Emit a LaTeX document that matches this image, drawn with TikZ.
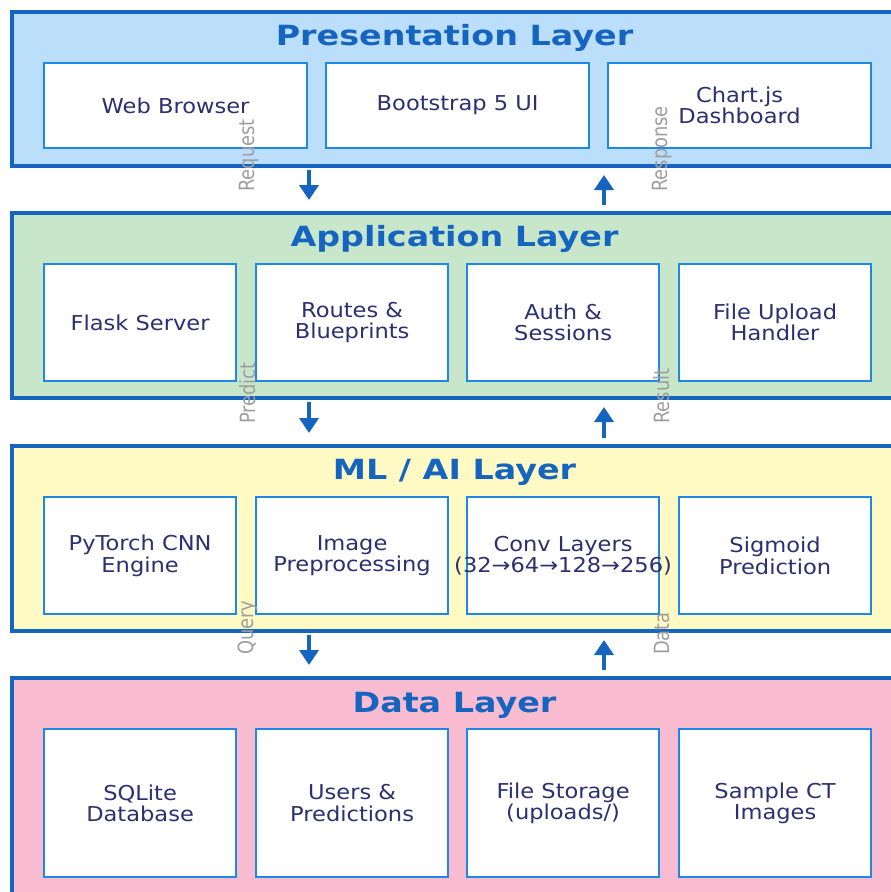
\documentclass[tikz,border=0pt]{standalone}
\usepackage{fontspec}
\setmainfont{DejaVu Sans}[FakeStretch=1.1]
\newfontfamily\titlefont{DejaVu Sans}[FakeStretch=1.2]
\newfontfamily\flowfont{DejaVu Sans}[FakeStretch=0.85]
\usetikzlibrary{arrows.meta}

\definecolor{presfill}{HTML}{BBDEFB}
\definecolor{appfill}{HTML}{C8E6C9}
\definecolor{mlfill}{HTML}{FFF9C4}
\definecolor{datafill}{HTML}{F8BBD0}
\definecolor{edgeblue}{HTML}{1565C0}
\definecolor{boxblue}{HTML}{1E88E5}
\definecolor{boxtext}{HTML}{2C2F70}
\definecolor{lblgray}{HTML}{9E9E9E}

\begin{document}
\begin{tikzpicture}[x=1pt, y=-1pt,
    layer/.style={draw=edgeblue, line width=4pt, outer sep=0pt, anchor=north west, minimum width=885pt},
    comp/.style={draw=boxblue, line width=2.2pt, fill=white, anchor=north west, align=center,
        inner sep=0pt, text=boxtext, font=\fontsize{20.5}{21.5}\selectfont},
    title/.style={anchor=base, text=edgeblue, font=\titlefont\bfseries\fontsize{27.8}{30}\selectfont},
    flow/.style={draw=edgeblue, line width=4.5pt, -{Triangle[length=15pt, width=19pt]}},
    lbl/.style={rotate=90, anchor=west, inner sep=0pt, text=lblgray, font=\flowfont\fontsize{21}{21}\selectfont}]
    \useasboundingbox (0,0) rectangle (891,892);

    % Presentation layer
    \node[layer, fill=presfill, minimum height=154pt] (pres) at (12,12) {};
    \node[title] (prestitle) at (454.5,45.5) {Presentation Layer};
    \node[comp, minimum width=263pt, minimum height=85pt] (browser) at (43,62) {Web Browser};
    \node[comp, minimum width=263pt, minimum height=85pt] (bootstrap) at (325,62) {Bootstrap 5 UI};
    \node[comp, minimum width=263pt, minimum height=85pt] (chartjs) at (607,62) {Chart.js\\Dashboard};

    % Application layer
    \node[layer, fill=appfill, minimum height=185pt] (app) at (12,213) {};
    \node[title] (apptitle) at (454.5,246.5) {Application Layer};
    \node[comp, minimum width=192pt, minimum height=117pt] (flask) at (43,263) {Flask Server};
    \node[comp, minimum width=192pt, minimum height=117pt] (routes) at (255,263) {Routes \&\\Blueprints};
    \node[comp, minimum width=192pt, minimum height=117pt] (auth) at (466,263) {Auth \&\\Sessions};
    \node[comp, minimum width=192pt, minimum height=117pt] (upload) at (678,263) {File Upload\\Handler};

    % ML / AI layer
    \node[layer, fill=mlfill, minimum height=185pt] (ml) at (12,446) {};
    \node[title] (mltitle) at (454.5,479.5) {ML / AI Layer};
    \node[comp, minimum width=192pt, minimum height=117pt] (engine) at (43,496) {PyTorch CNN\\Engine};
    \node[comp, minimum width=192pt, minimum height=117pt] (preproc) at (255,496) {Image\\Preprocessing};
    \node[comp, minimum width=192pt, minimum height=117pt] (conv) at (466,496) {Conv Layers\\\makebox[0pt]{(32→64→128→256)}};
    \node[comp, minimum width=192pt, minimum height=117pt] (sigmoid) at (678,496) {Sigmoid\\Prediction};

    % Data layer
    \node[layer, fill=datafill, minimum height=225pt] (data) at (12,678) {};
    \node[title] (datatitle) at (454.5,712) {Data Layer};
    \node[comp, minimum width=192pt, minimum height=148pt] (sqlite) at (43,728) {SQLite\\Database};
    \node[comp, minimum width=192pt, minimum height=148pt] (users) at (255,728) {Users \&\\Predictions};
    \node[comp, minimum width=192pt, minimum height=148pt] (storage) at (466,728) {File Storage\\(uploads/)};
    \node[comp, minimum width=192pt, minimum height=148pt] (samples) at (678,728) {Sample CT\\Images};

    % Flows between layers
    \coordinate (down) at (309,0);
    \coordinate (up) at (604,0);
    \draw[flow, shorten <=4pt, shorten >=13pt] (pres.south -| down) -- (app.north -| down);
    \draw[flow, shorten <=8pt, shorten >=9pt] (app.north -| up) -- (pres.south -| up);
    \draw[flow, shorten <=4pt, shorten >=13pt] (app.south -| down) -- (ml.north -| down);
    \draw[flow, shorten <=8pt, shorten >=9pt] (ml.north -| up) -- (app.south -| up);
    \draw[flow, shorten <=4pt, shorten >=13pt] (ml.south -| down) -- (data.north -| down);
    \draw[flow, shorten <=8pt, shorten >=9pt] (data.north -| up) -- (ml.south -| up);

    % Flow labels
    \node[lbl] (request) at (249,192) {Request};
    \node[lbl] (response) at (662,192) {Response};
    \node[lbl] (predict) at (248,424) {Predict};
    \node[lbl] (result) at (662,424) {Result};
    \node[lbl] (query) at (248,655) {Query};
    \node[lbl] (datalbl) at (662,655) {Data};
\end{tikzpicture}
\end{document}
